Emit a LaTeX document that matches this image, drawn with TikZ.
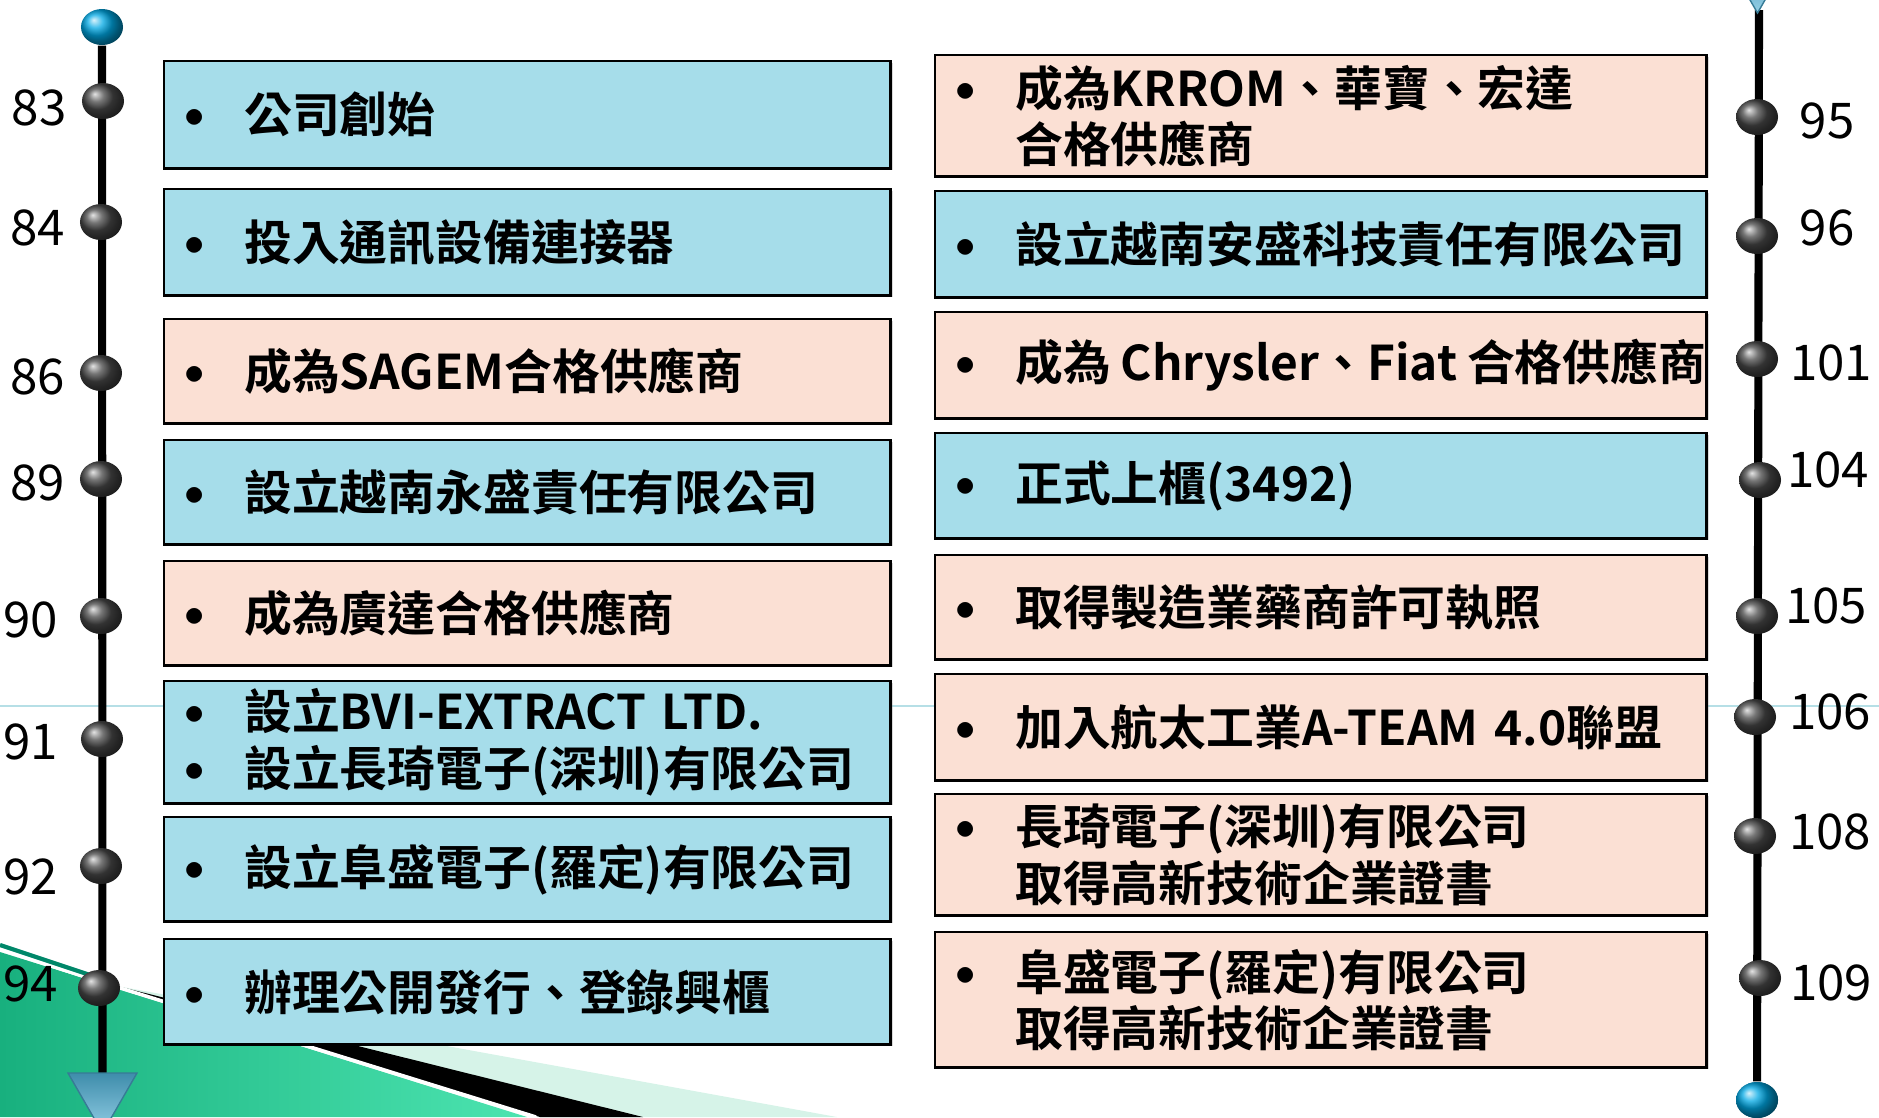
\documentclass[tikz,border=0pt]{standalone}
\usepackage{fontspec}
\setmainfont{Noto Sans CJK TC}[BoldFont={Noto Sans CJK TC Bold}]
\usetikzlibrary{shapes.geometric,shadows}

\definecolor{boxblue}{RGB}{166,221,234}
\definecolor{boxpeach}{RGB}{251,224,212}
\definecolor{knobgray}{RGB}{72,72,72}
\definecolor{knobblue}{RGB}{0,168,228}
\definecolor{tipblue}{RGB}{78,176,214}
\definecolor{swooshgreen}{RGB}{24,176,126}
\definecolor{swooshbright}{RGB}{76,228,176}
\definecolor{swooshlight}{RGB}{214,243,232}
\definecolor{swooshteal}{RGB}{0,135,105}
\definecolor{rulecyan}{RGB}{182,223,230}

\tikzset{
    event/.style={draw=black, line width=0.7pt, anchor=north west, inner xsep=0.17cm, inner ysep=0pt,
        align=left, font=\fontsize{13.6}{16}\selectfont\bfseries,
        drop shadow={shadow xshift=0.6pt, shadow yshift=-0.6pt, opacity=0.3}},
    leftevent/.style={event, minimum width=7.26cm, text width=6.92cm},
    rightevent/.style={event, minimum width=7.71cm, text width=7.37cm},
    bluefill/.style={fill=boxblue},
    peachfill/.style={fill=boxpeach},
    knob/.style={ellipse, minimum width=0.42cm, minimum height=0.36cm, inner sep=0pt, shade, ball color=knobgray},
    endknob/.style={knob, ball color=knobblue},
    year/.style={inner sep=0pt, font=\fontsize{14}{16}\selectfont},
    timeline/.style={line width=2.3pt, black},
}
\newcommand{\entry}[1]{\makebox[0.63cm][l]{\hspace{0.03cm}\raisebox{0.05cm}{\scalebox{0.8}{$\bullet$}}}\mbox{#1}}
\newcommand{\entrymore}[1]{\makebox[0.63cm][l]{}\mbox{#1}}

\begin{document}
\begin{tikzpicture}[x=0.01cm, y=-0.01cm]
    \useasboundingbox (0,0) rectangle (1879,1117);
    \clip (0,0) rectangle (1879,1117);

    % background swoosh
    \shade[left color=swooshgreen, right color=swooshbright] (0,952) -- (527,1117) -- (0,1117) -- cycle;
    \draw[white, line width=1pt] (0,949) -- (116,987);
    \draw[swooshteal, line width=1.2pt] (0,945) -- (114,983);
    \fill[swooshlight] (117,986) -- (837,1117) -- (540,1117) -- cycle;
    \fill[black] (117,986) -- (643,1117) -- (540,1117) -- cycle;
    \draw[white, line width=1pt] (117,987) -- (536,1117);
    \draw[rulecyan, line width=0.6pt] (0,706) -- (1879,706);

    % left time line
    \node[endknob] (ltop) at (102,27) {};
    \coordinate (lend) at (102.5,1073);
    \draw[timeline] (ltop) -- (lend);
    \shade[top color=tipblue!80!black, bottom color=tipblue!60!white, draw=tipblue!70!black, line width=0.4pt]
        (68,1073) -- (137,1073) -- (102.5,1133) -- cycle;

    % right time line
    \coordinate (rstart) at (1759,10);
    \node[endknob] (rend) at (1757,1100) {};
    \draw[timeline] (rstart) -- (rend);
    \shade[top color=tipblue!80!black, bottom color=tipblue!60!white, draw=tipblue!70!black, line width=0.4pt]
        (1723,-47) -- (1792,-47) -- (1757.5,13) -- cycle;
    \node[endknob] at (1757,1100) {};

    % left events
    \node[leftevent, bluefill, minimum height=1.07cm] (e83) at (163,60) {\entry{公司創始}};
    \node[leftevent, bluefill, minimum height=1.06cm] (e84) at (163,188) {\entry{投入通訊設備連接器}};
    \node[leftevent, peachfill, minimum height=1.04cm] (e86) at (163,318) {\entry{成為SAGEM合格供應商}};
    \node[leftevent, bluefill, minimum height=1.04cm] (e89) at (163,439) {\entry{設立越南永盛責任有限公司}};
    \node[leftevent, peachfill, minimum height=1.04cm] (e90) at (163,560) {\entry{成為廣達合格供應商}};
    \node[leftevent, bluefill, minimum height=1.22cm] (e91) at (163,680)
        {\entry{設立BVI-EXTRACT LTD.}\\\entry{設立長琦電子(深圳)有限公司}};
    \node[leftevent, bluefill, minimum height=1.04cm] (e92) at (163,816) {\entry{設立阜盛電子(羅定)有限公司}};
    \node[leftevent, bluefill, minimum height=1.05cm] (e94) at (163,938) {\entry{辦理公開發行、登錄興櫃}};

    % right events
    \node[rightevent, peachfill, minimum height=1.21cm] (e95) at (934,54)
        {\entry{成為KRROM、華寶、宏達}\\\entrymore{合格供應商}};
    \node[rightevent, bluefill, minimum height=1.06cm] (e96) at (934,190) {\entry{設立越南安盛科技責任有限公司}};
    \node[rightevent, peachfill, minimum height=1.06cm] (e101) at (934,311)
        {\entry{成為\hspace{0.1cm}Chrysler、Fiat\hspace{0.1cm}合格供應商}};
    \node[rightevent, bluefill, minimum height=1.05cm] (e104) at (934,432) {\entry{正式上櫃(3492)}};
    \node[rightevent, peachfill, minimum height=1.04cm] (e105) at (934,554) {\entry{取得製造業藥商許可執照}};
    \node[rightevent, peachfill, minimum height=1.06cm] (e106) at (934,673) {\entry{加入航太工業A-TEAM 4.0聯盟}};
    \node[rightevent, peachfill, minimum height=1.21cm] (e108) at (934,793)
        {\entry{長琦電子(深圳)有限公司}\\\entrymore{取得高新技術企業證書}};
    \node[rightevent, peachfill, minimum height=1.35cm] (e109) at (934,931)
        {\entry{阜盛電子(羅定)有限公司}\\\entrymore{取得高新技術企業證書}};

    % knobs and years
    \node[knob] (k83) at (103,101) {};
    \node[knob] (k84) at (101,222) {};
    \node[knob] (k86) at (101,373) {};
    \node[knob] (k89) at (101,479) {};
    \node[knob] (k90) at (101,616) {};
    \node[knob] (k91) at (102,739) {};
    \node[knob] (k92) at (101,866) {};
    \node[knob] (k94) at (99,988) {};
    \node[year] (y83) at (39,108) {83};
    \node[year] (y84) at (38,228) {84};
    \node[year] (y86) at (38,377) {86};
    \node[year] (y89) at (38,483) {89};
    \node[year] (y90) at (31,620) {90};
    \node[year] (y91) at (31,742) {91};
    \node[year] (y92) at (31,877) {92};
    \node[year] (y94) at (31,984) {94};

    \node[knob] (k95) at (1757,117) {};
    \node[knob] (k96) at (1757,236) {};
    \node[knob] (k101) at (1757,359) {};
    \node[knob] (k104) at (1760,480) {};
    \node[knob] (k105) at (1757,616) {};
    \node[knob] (k106) at (1755,717) {};
    \node[knob] (k108) at (1755,836) {};
    \node[knob] (k109) at (1760,978) {};
    \node[year] (y95) at (1827,121) {95};
    \node[year] (y96) at (1827,228) {96};
    \node[year] (y101) at (1831,363) {101};
    \node[year] (y104) at (1828,470) {104};
    \node[year] (y105) at (1826,606) {105};
    \node[year] (y106) at (1830,712) {106};
    \node[year] (y108) at (1830,832) {108};
    \node[year] (y109) at (1831,983) {109};
\end{tikzpicture}
\end{document}
